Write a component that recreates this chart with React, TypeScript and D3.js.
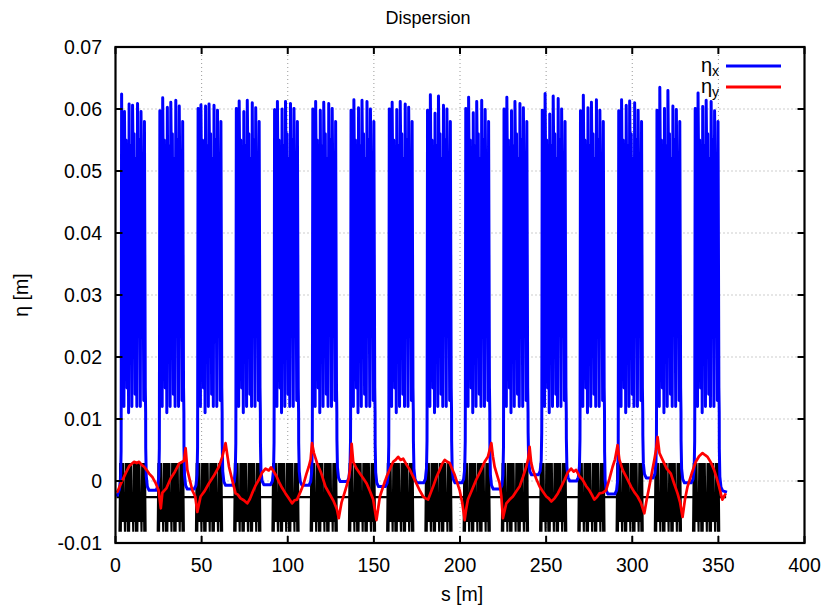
import React from 'react';
import * as d3 from 'd3';

const W = 839;
const H = 607;
const PL = 115.5, PR = 804.5, PT = 47, PB = 543;

const xTicks = [0, 50, 100, 150, 200, 250, 300, 350, 400];
const yTicks = [-0.01, 0, 0.01, 0.02, 0.03, 0.04, 0.05, 0.06, 0.07];
const yTickLabels = ['-0.01', '0', '0.01', '0.02', '0.03', '0.04', '0.05', '0.06', '0.07'];

// start of each high-dispersion arc cell (s in m)
const cellStart = [3.3, 25.5, 47.7, 69.9, 92.1, 114.3, 136.5, 158.7, 180.9, 203.1, 225.3, 247.5, 269.7, 291.9, 314.1, 336.3];
const cellLength = 14.2;
// six tallest spikes of eta_x in each cell
const cellPeaks = [
  [0.0624, 0.0596, 0.0608, 0.0606, 0.0609, 0.0596],
  [0.0597, 0.0618, 0.0603, 0.0611, 0.0614, 0.0605],
  [0.0601, 0.0607, 0.0605, 0.0608, 0.0606, 0.0598],
  [0.0601, 0.0613, 0.0596, 0.0614, 0.0610, 0.0602],
  [0.0599, 0.0612, 0.0600, 0.0612, 0.0609, 0.0601],
  [0.0600, 0.0612, 0.0598, 0.0611, 0.0609, 0.0601],
  [0.0598, 0.0615, 0.0602, 0.0614, 0.0612, 0.0600],
  [0.0600, 0.0611, 0.0599, 0.0612, 0.0608, 0.0603],
  [0.0598, 0.0623, 0.0593, 0.0621, 0.0606, 0.0600],
  [0.0601, 0.0619, 0.0594, 0.0612, 0.0614, 0.0599],
  [0.0600, 0.0619, 0.0597, 0.0612, 0.0609, 0.0602],
  [0.0598, 0.0625, 0.0592, 0.0621, 0.0617, 0.0600],
  [0.0597, 0.0622, 0.0602, 0.0611, 0.0615, 0.0598],
  [0.0597, 0.0615, 0.0606, 0.0613, 0.0610, 0.0598],
  [0.0598, 0.0635, 0.0601, 0.0630, 0.0605, 0.0599],
  [0.0601, 0.0626, 0.0604, 0.0614, 0.0612, 0.0597],
];
// eta_x floor before the first cell, in the 15 gaps, and after the last cell
const gapFloor = [-0.0021, -0.0017, -0.0015, -0.0009, -0.0008, -0.0009, -0.0003, -0.0011, -0.0005, -0.0005,
  -0.0015, 0.0008, -0.0002, -0.0023, 0.0003, -0.0005, -0.0018];
const blueBegin = 0.9;
const blueEnd = 355.0;

// shape of eta_x inside one cell: offset (m), value, or index into the cell's peak list
const blueTplOffset = [0.0, 0.25, 0.8, 1.1, 1.6, 1.9, 2.5, 2.8, 3.4, 3.8, 4.3, 4.6, 5.2, 5.6, 6.2, 6.6,
  7.2, 7.5, 8.1, 8.5, 9.1, 9.5, 10.1, 10.5, 11.1, 11.5, 12.1, 12.5, 13.1, 13.5, 14.0, 14.2];
const blueTplValue = [0.012, 0, 0.030, 0.052, 0.012, 0, 0.040, 0.055, 0.015, 0.050, 0.011, 0, 0.025, 0.054, 0.012, 0,
  0.045, 0.056, 0.014, 0.052, 0.012, 0, 0.030, 0.055, 0.012, 0, 0.040, 0.052, 0.013, 0.058, 0.015, 0.011];
const blueTplPeak = [-1, 0, -1, -1, -1, 1, -1, -1, -1, -1, -1, 2, -1, -1, -1, 3,
  -1, -1, -1, -1, -1, 4, -1, -1, -1, 5, -1, -1, -1, -1, -1, -1];
// rounded edge of the gaps between cells
const uEdgeOffset = [0.05, 0.35, 1.0, 2.0];
const uEdgeRise = [0.007, 0.0025, 0.0008, 0.0002];

// eta_y read along s
const redS = [0.5, 1.2, 3, 6, 8, 10.8, 12.3, 13.7, 15.2, 16.6, 18, 19.5, 21.5, 23.4, 25, 26.3, 27.2, 29.5, 32, 34.5,
  36.9, 38.8, 39.8, 40.7, 41.7, 43, 44.6, 46.3, 47.5, 49.4, 51.8, 54.2, 57, 60, 62, 63.9, 65.9, 67.8, 69.7, 71,
  72.6, 74.5, 76.5, 78, 79.3, 81.2, 83.2, 85, 87.1, 89, 90.3, 91.9, 93.4, 94.8, 96.7, 98.7, 100.6, 102.5, 104, 105.4,
  107.3, 109.3, 110.8, 112.2, 113.3, 114.1, 115.2, 117, 119.5, 121.9, 124.3, 126.7, 128.5, 129.6, 131.2, 133.4, 135.4, 136.2, 137.1, 138,
  139.9, 141.9, 143.9, 145.8, 147.7, 149.6, 151.5, 153.5, 155.5, 157.4, 159.3, 161.2, 162.6, 164.1, 165.5, 167, 169, 170.9, 172.8, 174.7,
  176.6, 178.6, 180, 181.5, 183, 184.4, 186.3, 188.2, 189.7, 191.1, 192.6, 194, 195.5, 196.9, 198.3, 199.8, 201.3, 202.7, 203.6, 204.6,
  207, 209.4, 211.9, 214.3, 216.2, 218.2, 219.1, 220.1, 221.5, 223, 224, 224.9, 226.9, 228.8, 230.7, 232.6, 234.6, 236.5, 238.5, 239.5,
  240.4, 241.3, 242.3, 244.2, 246.2, 248.1, 250.1, 251.5, 253, 254.9, 256.8, 258.8, 260.7, 262.6, 264.5, 266, 267.4, 269.3, 271.2, 273.2,
  275.1, 276.5, 278, 279.5, 280.9, 282.8, 284.8, 286.7, 288.6, 290, 291.5, 292.5, 294.4, 296.8, 299.3, 301.2, 303.1, 305, 307, 308.4,
  309.9, 311.3, 312.8, 313.8, 314.7, 315.8, 317.6, 320, 322.4, 324.3, 326.3, 327.8, 329.2, 330.6, 332.1, 334.5, 336.9, 338.8, 340.8, 342.2,
  343.7, 345.6, 347.5, 349, 350.4, 352.3, 353.3, 354.3];
const redEta = [-0.0018, -0.0017, -0.0005, 0.0013, 0.0024, 0.0031, 0.0029, 0.0031, 0.0026, 0.0023, 0.0018, 0.0012, 0.0006, -0.0004, -0.0015, -0.0044, -0.0019, -0.0012, 0.0004, 0.0015,
  0.0028, 0.0031, 0.0033, 0.0053, 0.0018, 0.0003, -0.0015, -0.0025, -0.005, -0.0025, -0.0016, -0.0004, 0.0008, 0.0023, 0.0039, 0.0061, 0.0023, 0.0001, -0.002, -0.0022,
  -0.0028, -0.0031, -0.0036, -0.0029, -0.002, -0.0008, 0.0002, 0.0013, 0.002, 0.0017, 0.0022, 0.0015, 0.0008, -0.0001, -0.0011, -0.002, -0.0028, -0.0036, -0.0031, -0.003,
  -0.0018, -0.0004, 0.0011, 0.0023, 0.0035, 0.0061, 0.0045, 0.0029, 0.0012, -0.0009, -0.0021, -0.0033, -0.0045, -0.006, -0.0035, -0.0015, 0.0004, 0.002, 0.006, 0.0031,
  0.002, 0.0012, 0.0004, -0.0004, -0.0016, -0.003, -0.0063, -0.0025, -0.0008, 0.0007, 0.0019, 0.0031, 0.0034, 0.0039, 0.0034, 0.0036, 0.0026, 0.0018, 0.0007, -0.0004,
  -0.0015, -0.0025, -0.0028, -0.003, -0.0019, -0.0009, 0.0006, 0.0018, 0.0028, 0.0034, 0.0031, 0.0029, 0.0019, 0.001, -0.0002, -0.0015, -0.0035, -0.0063, -0.0045, -0.003,
  -0.0014, 0.0002, 0.0016, 0.0031, 0.0039, 0.0061, 0.004, 0.0023, 0.001, -0.0004, -0.0025, -0.006, -0.0036, -0.003, -0.0025, -0.0017, -0.0009, 0.0006, 0.0023, 0.0035,
  0.0055, 0.003, 0.0018, 0.0004, -0.0009, -0.0017, -0.0025, -0.0028, -0.0033, -0.0028, -0.002, -0.0009, 0.0002, 0.0014, 0.002, 0.0015, 0.0018, 0.0008, 0.0002, -0.0008,
  -0.0015, -0.0022, -0.003, -0.0026, -0.002, -0.0019, -0.0015, 0.0003, 0.0023, 0.0035, 0.0058, 0.0035, 0.0018, 0.0005, -0.0009, -0.0018, -0.0025, -0.0035, -0.0052, -0.003,
  -0.0009, 0.0012, 0.0034, 0.005, 0.0071, 0.0045, 0.0034, 0.002, 0.0012, -0.0004, -0.002, -0.0035, -0.0058, -0.003, -0.0009, 0.0012, 0.0031, 0.004, 0.0045, 0.0042,
  0.0039, 0.003, 0.0018, 0.0005, -0.0009, -0.003, -0.0025, -0.002];

// lattice drawing (black): baseline and one repeated block per cell
const latticeBase = -0.0026;
const latticeBegin = 0.6;
const latticeEnd = 354.5;
const latticeShift = -1.0;
const latticeTplOffset = [0, 0.4, 0.8, 1.2, 1.6, 2.0, 2.4, 2.8, 3.2, 3.6, 4.0, 4.4, 4.8, 5.2, 5.6, 6.0, 6.4, 6.8, 7.2,
  7.6, 8.0, 8.4, 8.8, 9.2, 9.6, 10.0, 10.4, 10.8, 11.2, 11.6, 12.0, 12.4, 12.8, 13.2, 13.6, 14.0, 14.4, 14.8, 15.2];
const latticeTplValue = [-0.0082, 0.0029, -0.0082, 0.0029, -0.0066, 0.0029, -0.0066, -0.0026, -0.0082, 0.0029,
  -0.0066, 0.0029, -0.0082, 0.0029, -0.0082, 0.0029, -0.0066, 0.0029, -0.0066, -0.0026,
  -0.0082, 0.0029, -0.0066, 0.0029, -0.0082, 0.0029, -0.0082, 0.0029, -0.0066, 0.0029,
  -0.0066, -0.0026, -0.0082, 0.0029, -0.0066, 0.0029, -0.0082, 0.0029, -0.0082];

const FONT = "'Liberation Sans', Arial, Helvetica, sans-serif";

export default function App() {
  const x = d3.scaleLinear().domain([0, 400]).range([PL, PR]);
  const y = d3.scaleLinear().domain([-0.01, 0.07]).range([PB, PT]);
  const line = d3.line<[number, number]>().x(d => x(d[0])).y(d => y(d[1]));

  // eta_x points
  const blue: [number, number][] = [];
  blue.push([blueBegin, gapFloor[0] - 0.0004]);
  blue.push([blueBegin + 0.4, gapFloor[0]]);
  cellStart.forEach((S, k) => {
    const before = gapFloor[k];
    for (let i = uEdgeOffset.length - 1; i >= 0; i--) {
      const o = S - uEdgeOffset[i];
      if (o > blueBegin + 0.4) blue.push([o, before + uEdgeRise[i]]);
    }
    blueTplOffset.forEach((o, i) => {
      const p = blueTplPeak[i];
      blue.push([S + o, p >= 0 ? cellPeaks[k][p] : blueTplValue[i]]);
    });
    const E = S + cellLength;
    const after = gapFloor[k + 1];
    uEdgeOffset.forEach((o, i) => {
      if (E + o < blueEnd) blue.push([E + o, after + uEdgeRise[i]]);
    });
  });
  blue.push([blueEnd, gapFloor[gapFloor.length - 1]]);

  const red: [number, number][] = redS.map((s, i) => [s, redEta[i]]);

  // lattice
  const lattice: [number, number][][] = cellStart.map(S =>
    latticeTplOffset.map((o, i) => [S + latticeShift + o, latticeTplValue[i]] as [number, number]));

  const tickLen = 7;
  const fs = 19.5;

  return (
    <div style={{ position: 'absolute', left: 0, top: 0 }}>
      <svg width={W} height={H} viewBox={`0 0 ${W} ${H}`} style={{ display: 'block', background: '#fff' }}>
        <rect x={0} y={0} width={W} height={H} fill="#fff" />
        {/* grid */}
        <g stroke="#9a9a9a" strokeWidth={1} strokeDasharray="1,3" fill="none">
          {xTicks.slice(1, -1).map(t => (
            <line key={'gx' + t} x1={x(t)} x2={x(t)} y1={PT} y2={PB} />
          ))}
          {yTicks.slice(1, -1).map(t => (
            <line key={'gy' + t} x1={PL} x2={PR} y1={y(t)} y2={y(t)} />
          ))}
        </g>
        {/* lattice */}
        <g fill="none" stroke="#000">
          <line x1={x(latticeBegin)} x2={x(latticeEnd)} y1={y(latticeBase)} y2={y(latticeBase)} strokeWidth={2.2} />
          {lattice.map((pts, i) => (
            <path key={'lat' + i} d={line(pts) || ''} strokeWidth={2.1} strokeLinejoin="miter" />
          ))}
        </g>
        {/* eta_x */}
        <path d={line(blue) || ''} fill="none" stroke="#0000ff" strokeWidth={3} strokeLinejoin="round" />
        {/* eta_y */}
        <path d={line(red) || ''} fill="none" stroke="#ff0000" strokeWidth={2.7} strokeLinejoin="round" />
        {/* frame */}
        <rect x={PL} y={PT} width={PR - PL} height={PB - PT} fill="none" stroke="#000" strokeWidth={2.2} />
        {/* ticks */}
        <g stroke="#000" strokeWidth={2}>
          {xTicks.map(t => (
            <g key={'tx' + t}>
              <line x1={x(t)} x2={x(t)} y1={PB} y2={PB - tickLen} />
              <line x1={x(t)} x2={x(t)} y1={PT} y2={PT + tickLen} />
            </g>
          ))}
          {yTicks.map(t => (
            <g key={'ty' + t}>
              <line x1={PL} x2={PL + tickLen} y1={y(t)} y2={y(t)} />
              <line x1={PR} x2={PR - tickLen} y1={y(t)} y2={y(t)} />
            </g>
          ))}
        </g>
        {/* tick labels */}
        <g fontFamily={FONT} fontSize={fs} fill="#000">
          {xTicks.map(t => (
            <text key={'lx' + t} x={x(t)} y={572} textAnchor="middle">{String(t)}</text>
          ))}
          {yTicks.map((t, i) => (
            <text key={'ly' + t} x={102} y={y(t) + 7} textAnchor="end">{yTickLabels[i]}</text>
          ))}
        </g>
        {/* titles */}
        <text x={428} y={24} textAnchor="middle" fontFamily={FONT} fontSize={18}>Dispersion</text>
        <text x={462} y={601} textAnchor="middle" fontFamily={FONT} fontSize={fs}>s [m]</text>
        <text transform={`translate(28,${(PT + PB) / 2}) rotate(-90)`} textAnchor="middle" fontFamily={FONT} fontSize={fs}>η [m]</text>
        {/* legend */}
        <g fontFamily={FONT}>
          <text x={719} y={72} textAnchor="end" fontSize={20}>η<tspan fontSize={14} dy={4}>x</tspan></text>
          <line x1={726} x2={781} y1={66} y2={66} stroke="#0000ff" strokeWidth={2.8} />
          <text x={719} y={93} textAnchor="end" fontSize={20}>η<tspan fontSize={14} dy={4}>y</tspan></text>
          <line x1={726} x2={781} y1={87} y2={87} stroke="#ff0000" strokeWidth={2.8} />
        </g>
      </svg>
    </div>
  );
}
